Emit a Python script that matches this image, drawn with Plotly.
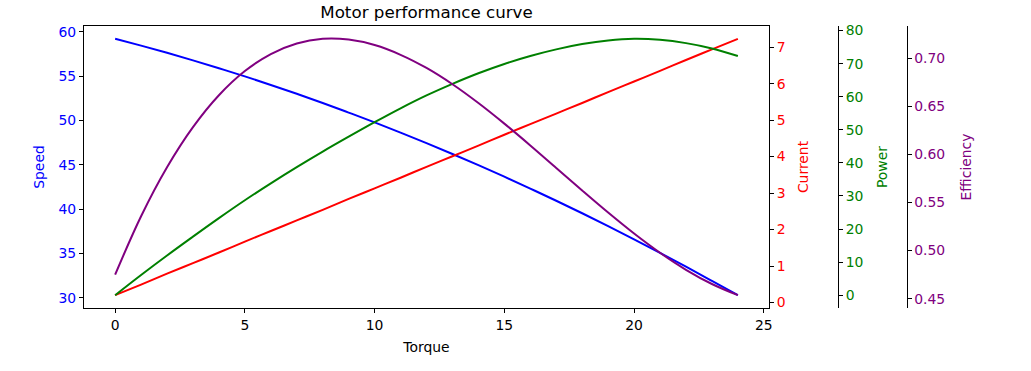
import plotly.graph_objects as go

torque = list(range(0, 25))
speed = [59.20, 58.43, 57.62, 56.77, 55.88, 54.96, 54.00, 53.00, 51.96, 50.88,
         49.77, 48.62, 47.43, 46.21, 44.95, 43.65, 42.31, 40.94, 39.53, 38.08,
         36.59, 35.06, 33.50, 31.90, 30.29]
current = [0.20, 0.49, 0.79, 1.08, 1.37, 1.67, 1.96, 2.25, 2.54, 2.84,
           3.13, 3.42, 3.72, 4.01, 4.30, 4.60, 4.89, 5.18, 5.47, 5.77,
           6.06, 6.35, 6.65, 6.94, 7.23]
power = [0.0, 6.1, 12.0, 17.7, 23.3, 28.7, 33.8, 38.7, 43.4, 47.9,
         52.3, 56.5, 60.4, 63.9, 67.1, 69.9, 72.3, 74.3, 75.9, 77.0,
         77.5, 77.2, 76.2, 74.6, 72.3]
efficiency = [0.4750, 0.5357, 0.5866, 0.6283, 0.6614, 0.6865, 0.7042, 0.7152, 0.7200, 0.7192,
              0.7135, 0.7034, 0.6897, 0.6728, 0.6533, 0.6319, 0.6093, 0.5859, 0.5625, 0.5396,
              0.5178, 0.4978, 0.4801, 0.4653, 0.4537]

speed_ticks = [30, 35, 40, 45, 50, 55, 60]
current_ticks = [0, 1, 2, 3, 4, 5, 6, 7]
power_ticks = [0, 10, 20, 30, 40, 50, 60, 70, 80]
eff_ticks = [0.45, 0.50, 0.55, 0.60, 0.65, 0.70]
x_ticks = [0, 5, 10, 15, 20, 25]


def padded(vals, frac=0.05):
    lo, hi = min(vals), max(vals)
    d = hi - lo
    return [lo - frac * d, hi + frac * d]


W, H = 1031, 371
L, R, T, B = 84, 769, 26, 308
FONT = "DejaVu Sans"
FS = 13.9
LINE = dict(width=2, shape="spline", smoothing=1.0)

fig = go.Figure()
fig.add_trace(go.Scatter(x=torque, y=speed, mode="lines", name="Speed",
                         line=dict(color="blue", **LINE), yaxis="y"))
fig.add_trace(go.Scatter(x=torque, y=current, mode="lines", name="Current",
                         line=dict(color="red", **LINE), yaxis="y2"))
fig.add_trace(go.Scatter(x=torque, y=power, mode="lines", name="Power",
                         line=dict(color="green", **LINE), yaxis="y3"))
fig.add_trace(go.Scatter(x=torque, y=efficiency, mode="lines", name="Efficiency",
                         line=dict(color="purple", **LINE), yaxis="y4"))

common = dict(showgrid=False, zeroline=False, showline=True, linecolor="black",
              linewidth=1, ticks="outside", ticklen=4, tickwidth=1, tickcolor="black",
              automargin=False)

fig.update_layout(
    width=W, height=H,
    margin=dict(l=0, r=0, t=0, b=0, pad=0, autoexpand=False),
    paper_bgcolor="white", plot_bgcolor="white",
    showlegend=False,
    font=dict(family=FONT, size=FS, color="black"),
    title=dict(text="Motor performance curve", x=(L + R) / 2 / W, xanchor="center",
               y=1 - 12 / H, yanchor="middle", yref="container", automargin=False,
               font=dict(family=FONT, size=16.7, color="black")),
    xaxis=dict(domain=[L / W, R / W], range=padded(torque), tickvals=x_ticks,
               mirror=True, title=dict(text="Torque", standoff=10,
                                       font=dict(size=FS, color="black")),
               tickfont=dict(size=FS, color="black"), **common),
    yaxis=dict(domain=[1 - B / H, 1 - T / H], range=padded(speed), tickvals=speed_ticks,
               side="left", anchor="x",
               title=dict(text="Speed", standoff=10, font=dict(size=FS, color="blue")),
               tickfont=dict(size=FS, color="blue"), **common),
    yaxis2=dict(overlaying="y", side="right", anchor="x", range=padded(current),
                tickvals=current_ticks,
                title=dict(text="Current", standoff=13, font=dict(size=FS, color="red")),
                tickfont=dict(size=FS, color="red"), **common),
    yaxis3=dict(overlaying="y", side="right", anchor="free", position=838 / W,
                range=padded(power), tickvals=power_ticks,
                title=dict(text="Power", standoff=14, font=dict(size=FS, color="green")),
                tickfont=dict(size=FS, color="green"), **common),
    yaxis4=dict(overlaying="y", side="right", anchor="free", position=906.5 / W,
                range=padded(efficiency), tickvals=eff_ticks, tickformat=".2f",
                title=dict(text="Efficiency", standoff=17, font=dict(size=FS, color="purple")),
                tickfont=dict(size=FS, color="purple"), **common),
)

fig.write_html("out.html", config={"displayModeBar": False},
               post_script="document.body.style.margin='0';")
